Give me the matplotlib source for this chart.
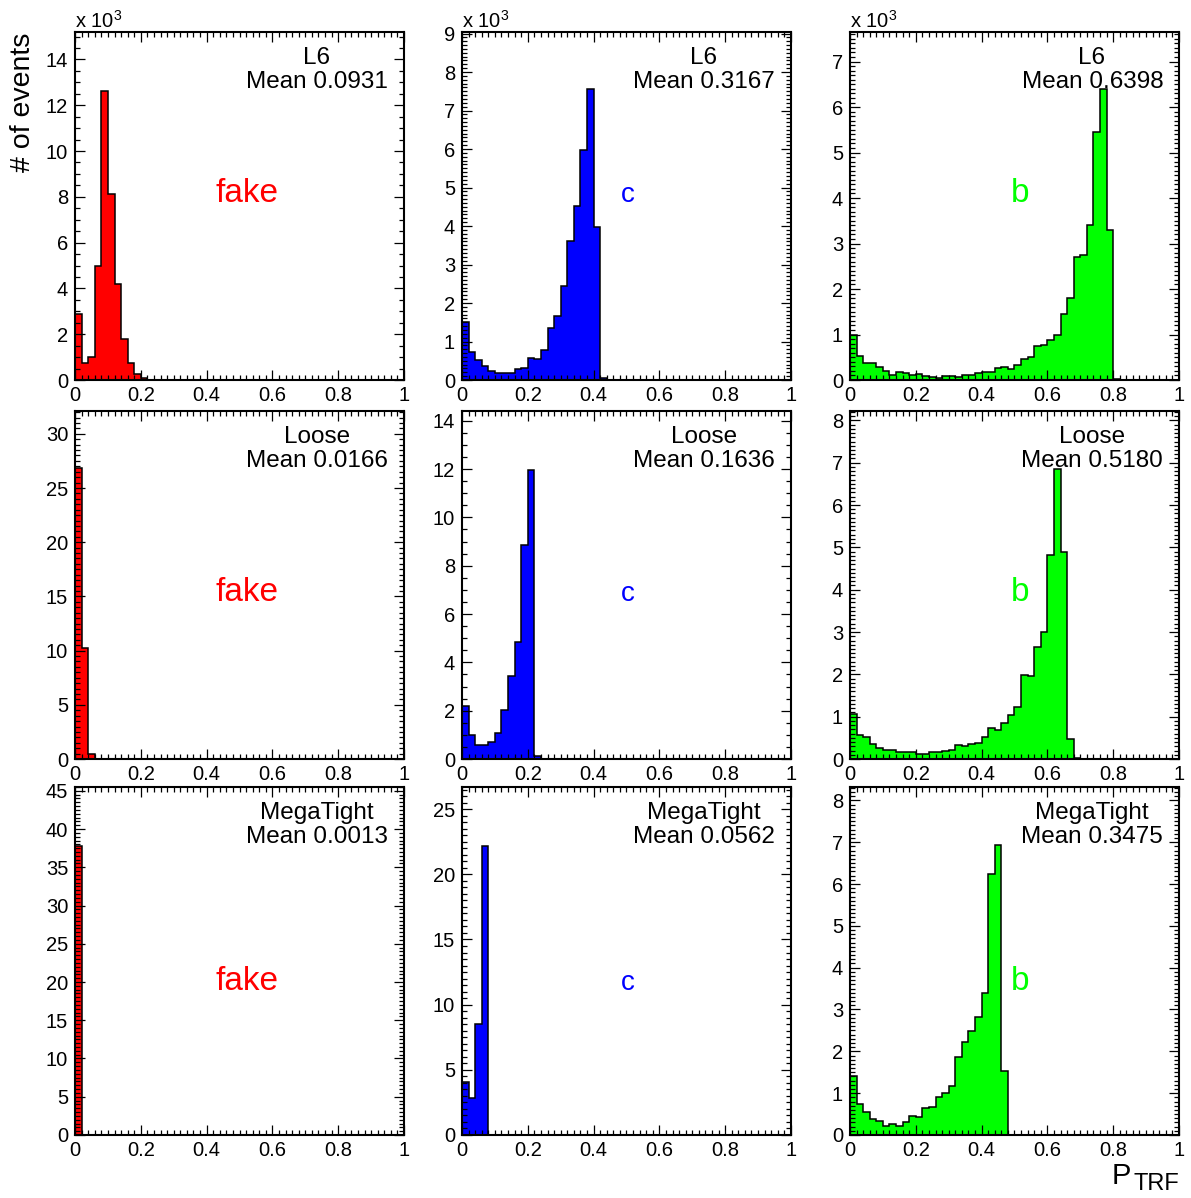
import matplotlib
matplotlib.use("Agg")
import matplotlib.pyplot as plt
from matplotlib.ticker import MultipleLocator, FuncFormatter
import numpy as np

plt.rcParams['font.family'] = ['Liberation Sans', 'DejaVu Sans']

# 50 bins over [0, 1]; only the leading (non empty) bins are listed
bin_edges = np.linspace(0.0, 1.0, 51)

# row 1 : L6 (values in units of 10^3)
fake_l6 = [2.87, 0.76, 1.02, 5.0, 12.64, 8.12, 4.21, 1.78, 0.73, 0.26, 0.07, 0.02]
c_l6 = [1.50, 0.74, 0.52, 0.37, 0.24, 0.19, 0.17, 0.17, 0.28, 0.30,
        0.58, 0.55, 0.77, 1.36, 1.67, 2.43, 3.61, 4.52, 5.97, 7.55,
        3.98, 0.06]
b_l6 = [0.99, 0.52, 0.37, 0.37, 0.28, 0.20, 0.12, 0.18, 0.15, 0.10,
        0.13, 0.09, 0.06, 0.04, 0.08, 0.08, 0.07, 0.12, 0.10, 0.15,
        0.17, 0.17, 0.27, 0.28, 0.25, 0.32, 0.47, 0.50, 0.75, 0.78,
        0.88, 1.00, 1.45, 1.80, 2.70, 2.75, 3.40, 5.45, 6.40, 3.30,
        0.02]

# row 2 : Loose
fake_loose = [26.8, 10.25, 0.46, 0.05]
c_loose = [2.21, 1.01, 0.58, 0.58, 0.72, 1.08, 2.05, 3.42, 4.84, 8.85,
           11.96, 0.14]
b_loose = [1.07, 0.57, 0.53, 0.36, 0.27, 0.21, 0.21, 0.17, 0.16, 0.16,
           0.11, 0.11, 0.16, 0.17, 0.19, 0.21, 0.33, 0.32, 0.35, 0.37,
           0.51, 0.74, 0.69, 0.85, 1.03, 1.22, 1.98, 1.95, 2.64, 3.00,
           4.82, 6.85, 4.88, 0.47, 0.02]

# row 3 : MegaTight
fake_mega = [37.8, 0.02]
c_mega = [4.03, 2.87, 8.51, 22.2, 0.02]
b_mega = [1.40, 0.74, 0.54, 0.38, 0.34, 0.22, 0.26, 0.22, 0.32, 0.45,
          0.42, 0.64, 0.66, 0.91, 1.01, 1.18, 1.86, 2.22, 2.48, 2.82,
          3.40, 6.24, 6.94, 1.54]

hists = [[fake_l6, c_l6, b_l6],
         [fake_loose, c_loose, b_loose],
         [fake_mega, c_mega, b_mega]]
working_points = ["L6", "Loose", "MegaTight"]
means = [["0.0931", "0.3167", "0.6398"],
         ["0.0166", "0.1636", "0.5180"],
         ["0.0013", "0.0562", "0.3475"]]
flavours = ["fake", "c", "b"]
flavour_colors = ["#ff0000", "#0000ff", "#00ff00"]

y_max = [[15.2, 9.04, 7.65],
         [32.1, 14.4, 8.22],
         [45.5, 26.7, 8.32]]
y_major = [[2, 1, 1],
           [5, 2, 1],
           [5, 5, 1]]
y_minor = [[0.5, 0.1, 0.1],
           [0.5, 0.5, 0.1],
           [0.5, 0.5, 0.1]]

fig = plt.figure(figsize=(11.91, 11.98), dpi=100)

# panel placement (figure fractions)
lefts = [0.0630, 0.3879, 0.7137]
bottoms = [0.6828, 0.3664, 0.0526]
w, h = 0.2762, 0.2905
# vertical position of the flavour label per row (axes fraction, baseline)
flav_y = [0.512, 0.454, 0.418]
flav_x = [0.524, 0.505, 0.517]
flav_size = [24, 20, 24]

fmt = FuncFormatter(lambda v, p: "%g" % round(v, 2))

for r in range(3):
    for c in range(3):
        ax = fig.add_axes([lefts[c], bottoms[r], w, h])
        vals = hists[r][c]
        edges = bin_edges[:len(vals) + 1]
        ax.stairs(vals, edges, fill=True, color=flavour_colors[c], baseline=0)
        ax.stairs(vals, edges, color="black", linewidth=1.1, baseline=0)

        ax.set_xlim(0, 1)
        ax.set_ylim(0, y_max[r][c])
        ax.xaxis.set_major_locator(MultipleLocator(0.2))
        ax.xaxis.set_minor_locator(MultipleLocator(0.02))
        ax.yaxis.set_major_locator(MultipleLocator(y_major[r][c]))
        ax.yaxis.set_minor_locator(MultipleLocator(y_minor[r][c]))
        ax.xaxis.set_major_formatter(fmt)
        ax.yaxis.set_major_formatter(fmt)
        ax.tick_params(which="both", direction="in", top=True, right=True,
                       labelsize=14.5, width=0.9)
        ax.tick_params(which="major", length=7.5)
        ax.tick_params(which="minor", length=3.8)
        ax.tick_params(axis="x", pad=4)
        ax.tick_params(axis="y", pad=5)
        for s in ax.spines.values():
            s.set_linewidth(1.5)

        ax.text(0.735, 0.925, working_points[r], transform=ax.transAxes,
                ha="center", va="center", fontsize=17.5)
        ax.text(0.952, 0.856, "Mean " + means[r][c], transform=ax.transAxes,
                ha="right", va="center", fontsize=17.5)
        ax.text(flav_x[c], flav_y[r], flavours[c], transform=ax.transAxes,
                ha="center", va="baseline", fontsize=flav_size[c],
                color=flavour_colors[c])

        if r == 0:
            ax.text(0.0, 1.012, r"x 10$^\mathregular{3}$", transform=ax.transAxes,
                    ha="left", va="baseline", fontsize=14.5)

fig.text(0.0193, 0.9725, "# of events", rotation=90, ha="center", va="top",
         fontsize=20.5)
fig.text(1112 / 1191, 1 - 1184 / 1198, "P", ha="left", va="baseline", fontsize=21)
fig.text(1133 / 1191, 1 - 1190 / 1198, "TRF", ha="left", va="baseline", fontsize=17)

fig.savefig("out.png", dpi=100)
